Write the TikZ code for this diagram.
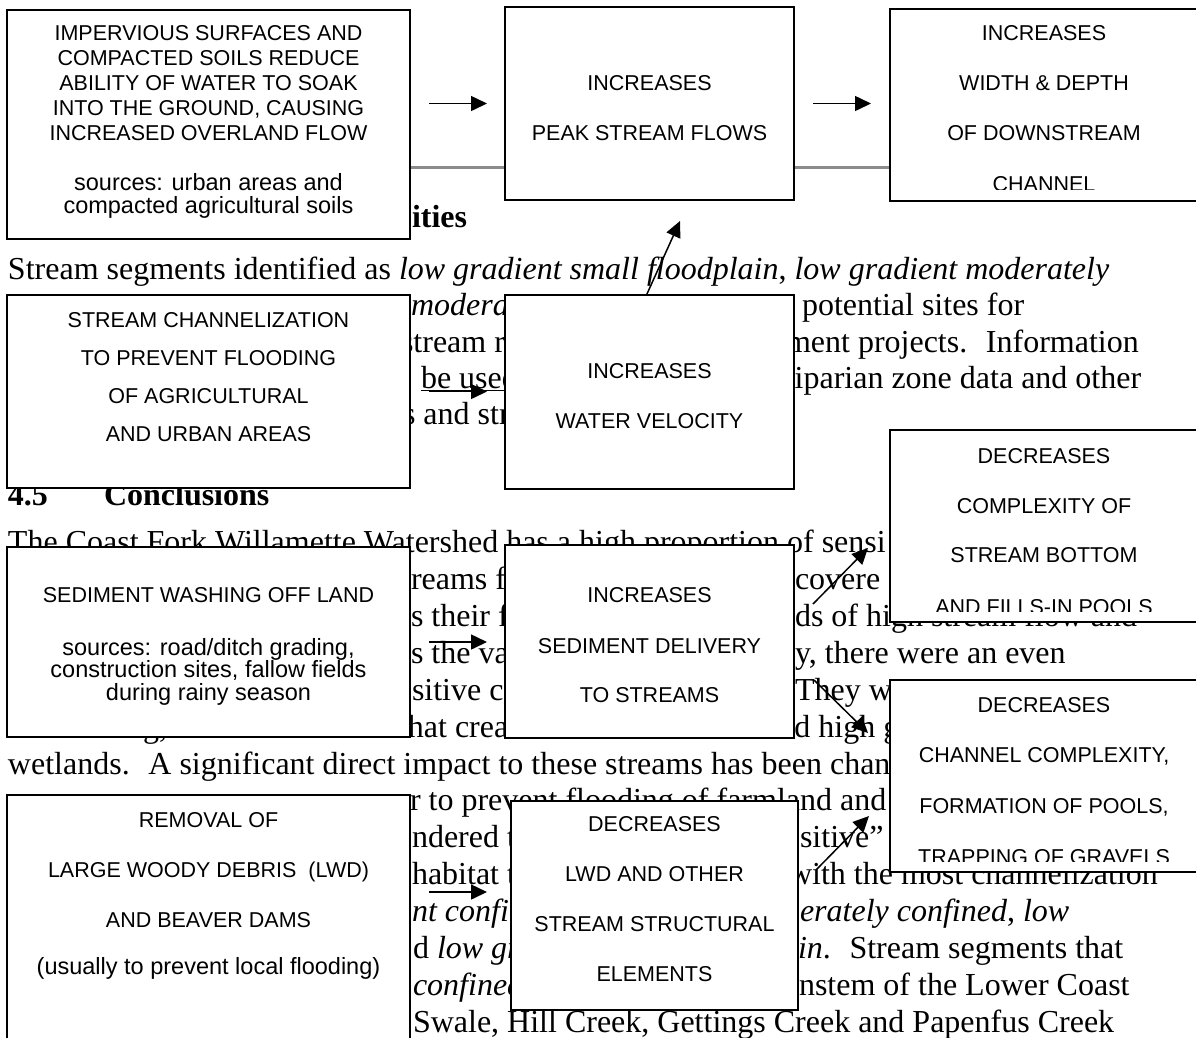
\documentclass[tikz,border=0pt]{standalone}
\usepackage{fontspec}
\setmainfont{Liberation Serif}
\newfontfamily\boxfont{Liberation Sans}
\usetikzlibrary{arrows.meta}
\tikzset{
  doc/.style={anchor=base west, inner sep=0pt, outer sep=0pt, font=\fontsize{32}{36}\selectfont},
  dochead/.style={anchor=base west, inner sep=0pt, outer sep=0pt, font=\fontsize{32}{36}\selectfont\bfseries},
  panel/.style={draw=black, line width=2pt, fill=white, inner sep=0pt, outer sep=0pt},
  captxt/.style={anchor=base, inner sep=0pt, font=\boxfont\fontsize{21.5}{24}\selectfont},
  lowtxt/.style={anchor=base, inner sep=0pt, font=\boxfont\fontsize{23.5}{26}\selectfont},
  arr/.style={line width=1.5pt, -{Triangle[length=16pt,width=15pt]}},
  rulegray/.style={draw=black!45, line width=3pt},
}
\newcommand\panelbox[5]{\node[panel, minimum width={(#4)-(#2)}, minimum height={(#5)-(#3)}] (#1) at ({((#2)+(#4))/2},{((#3)+(#5))/2}) {};}
\begin{document}
\begin{tikzpicture}[x=1pt,y=-1pt]
\useasboundingbox (0,0) rectangle (1196,1037);
\fill[white] (0,0) rectangle (1196,1037);

% ---------------- background document text ----------------
\node[dochead] (h1) at (412,227) {ities};
\node[doc] (u1) at (8,279) {Stream segments identified as \textit{low gradient small floodplain}, \textit{low gradient moderately}};
\node[doc] (u2a) at (411,315.5) {\textit{modera}};
\node[doc] (u2b) at (802,315.5) {potential sites for};
\node[doc] (u3a) at (401,352) {stream r};
\node[doc] (u3b) at (786,352) {ment projects.~ Information};
\node[doc] (u4a) at (421,388.3) {\underline{be used}};
\node[doc] (u4b) at (784,388.3) {riparian zone data and other};
\node[doc] (u5a) at (403,424.5) {s and str};
\node[dochead] (h2a) at (8,505) {4.5};
\node[dochead] (h2b) at (104,505) {Conclusions};

\node[doc] (l1) at (8,552) {The Coast Fork Willamette Watershed has a high proportion of sensi};
\node[doc] (l2a) at (411,589) {reams f};
\node[doc] (l2b) at (795,589) {covere};
\node[doc] (l3a) at (411,626) {s their f};
\node[doc] (l3b) at (795,626) {ds of high stream flow and};
\node[doc] (l4a) at (411,663) {s the va};
\node[doc] (l4b) at (795,663) {y, there were an even};
\node[doc] (l5a) at (412,700) {sitive c};
\node[doc] (l5b) at (795,700) {They we};
\node[doc] (l6) at (8,737) {meandering, braided channels that created a mosaic of isolated high g};
\node[doc] (l7) at (8,774) {wetlands.~ A significant direct impact to these streams has been chan};
\node[doc] (l8) at (410,810.5) {r to prevent flooding of farmland and};
\node[doc] (l9a) at (412,847.5) {ndered t};
\node[doc] (l9b) at (800,847.5) {sitive” b};
\node[doc] (l10a) at (412,884.3) {habitat t};
\node[doc] (l10b) at (789,884.3) {with the most channelization};
\node[doc] (l11a) at (412,921.2) {\textit{nt confi}};
\node[doc] (l11b) at (800,921.2) {\textit{erately confined}, \textit{low}};
\node[doc] (l12a) at (413,958.1) {d \textit{low gr}};
\node[doc] (l12b) at (798,958.1) {\textit{in}.~ Stream segments that};
\node[doc] (l13a) at (413,995) {\textit{confined}};
\node[doc] (l13b) at (799,995) {nstem of the Lower Coast};
\node[doc] (l14) at (413,1032) {Swale, Hill Creek, Gettings Creek and Papenfus Creek};

% ---------------- gray rule behind top row ----------------
\coordinate (r1) at (410,167);
\coordinate (r2) at (890,167);
\draw[rulegray] (r1) -- (r2);

% ---------------- boxes ----------------
\panelbox{A}{7}{10}{410}{239}
\panelbox{B}{505}{7}{794}{200}
\panelbox{C}{890}{9}{1202}{201}
\panelbox{D}{7}{295}{410}{488}
\panelbox{E}{505}{295}{794}{489}
\panelbox{F}{890}{430}{1202}{622}
\panelbox{G}{7}{547}{410}{737}
\panelbox{H}{505}{545}{794}{738}
\panelbox{I}{890}{680}{1202}{872}
\panelbox{J}{7}{795}{410}{1060}
\panelbox{K}{511}{801}{798}{1010}

% ---------------- box texts ----------------
\node[captxt] (A1) at (208.5,40) {IMPERVIOUS SURFACES AND};
\node[captxt] (A2) at (208.5,65) {COMPACTED SOILS REDUCE};
\node[captxt] (A3) at (208.5,90) {ABILITY OF WATER TO SOAK};
\node[captxt] (A4) at (208.5,115) {INTO THE GROUND, CAUSING};
\node[captxt] (A5) at (208.5,140) {INCREASED OVERLAND FLOW};
\node[lowtxt] (A6) at (208.5,190) {sources: urban areas and};
\node[lowtxt] (A7) at (208.5,213.5) {compacted agricultural soils};

\node[captxt] (B1) at (649.5,90) {INCREASES};
\node[captxt] (B2) at (649.5,140) {PEAK STREAM FLOWS};

\begin{scope}
\clip (C.north west) rectangle ([yshift=12pt]C.south east);
\node[captxt] (C1) at (1044,40) {INCREASES};
\node[captxt] (C2) at (1044,90) {WIDTH \& DEPTH};
\node[captxt] (C3) at (1044,140) {OF DOWNSTREAM};
\node[captxt] (C4) at (1044,191.5) {CHANNEL};
\end{scope}

\node[captxt] (D1) at (208.5,327) {STREAM CHANNELIZATION};
\node[captxt] (D2) at (208.5,365) {TO PREVENT FLOODING};
\node[captxt] (D3) at (208.5,403) {OF AGRICULTURAL};
\node[captxt] (D4) at (208.5,441) {AND URBAN AREAS};

\node[captxt] (E1) at (649.5,378) {INCREASES};
\node[captxt] (E2) at (649.5,428) {WATER VELOCITY};

\begin{scope}
\clip (F.north west) rectangle ([yshift=11pt]F.south east);
\node[captxt] (F1) at (1044,463) {DECREASES};
\node[captxt] (F2) at (1044,513) {COMPLEXITY OF};
\node[captxt] (F3) at (1044,562) {STREAM BOTTOM};
\node[captxt] (F4) at (1044,614.5) {AND FILLS-IN POOLS};
\end{scope}

\node[captxt] (G1) at (208.5,602) {SEDIMENT WASHING OFF LAND};
\node[lowtxt] (G2) at (208.5,655) {sources: road/ditch grading,};
\node[lowtxt] (G3) at (208.5,677.5) {construction sites, fallow fields};
\node[lowtxt] (G4) at (208.5,700) {during rainy season};

\node[captxt] (H1) at (649.5,602) {INCREASES};
\node[captxt] (H2) at (649.5,653) {SEDIMENT DELIVERY};
\node[captxt] (H3) at (649.5,702) {TO STREAMS};

\begin{scope}
\clip (I.north west) rectangle ([yshift=11pt]I.south east);
\node[captxt] (I1) at (1044,712) {DECREASES};
\node[captxt] (I2) at (1044,762) {CHANNEL COMPLEXITY,};
\node[captxt] (I3) at (1044,813) {FORMATION OF POOLS,};
\node[captxt] (I4) at (1044,864.5) {TRAPPING OF GRAVELS};
\end{scope}

\node[captxt] (J1) at (208.5,827) {REMOVAL OF};
\node[captxt] (J2) at (208.5,877) {LARGE WOODY DEBRIS~~(LWD)};
\node[captxt] (J3) at (208.5,927) {AND BEAVER DAMS};
\node[lowtxt] (J4) at (208.5,974) {(usually to prevent local flooding)};

\node[captxt] (K1) at (654.5,831) {DECREASES};
\node[captxt] (K2) at (654.5,881) {LWD AND OTHER};
\node[captxt] (K3) at (654.5,931) {STREAM STRUCTURAL};
\node[captxt] (K4) at (654.5,981) {ELEMENTS};

% ---------------- arrows ----------------
\draw[arr, shorten <=19pt, shorten >=18pt] (A.east |- B.west) -- (B.west);
\draw[arr, shorten <=19pt, shorten >=19pt] (B.east) -- (C.west |- B.east);
\draw[arr, shorten <=19pt, shorten >=18pt] (D.east) -- (E.west |- D.east);
\draw[arr, shorten <=19pt, shorten >=18pt] (G.east) -- (H.west |- G.east);
\coordinate (jk) at (511,892);
\draw[arr, shorten <=19pt, shorten >=24pt] (J.east |- jk) -- (jk);
\coordinate (eb) at (680,221);
\draw[arr] ([xshift=-3pt]E.north) -- (eb);
\draw[arr] ([shift={(19,59)}]H.north east) -- ([shift={(-22,-74)}]F.south west);
\draw[arr] ([shift={(20,-58)}]H.south east) -- ([shift={(-22,53)}]I.north west);
\draw[arr] ([shift={(18,69)}]K.north east) -- ([shift={(-21,-56)}]I.south west);
\end{tikzpicture}
\end{document}
